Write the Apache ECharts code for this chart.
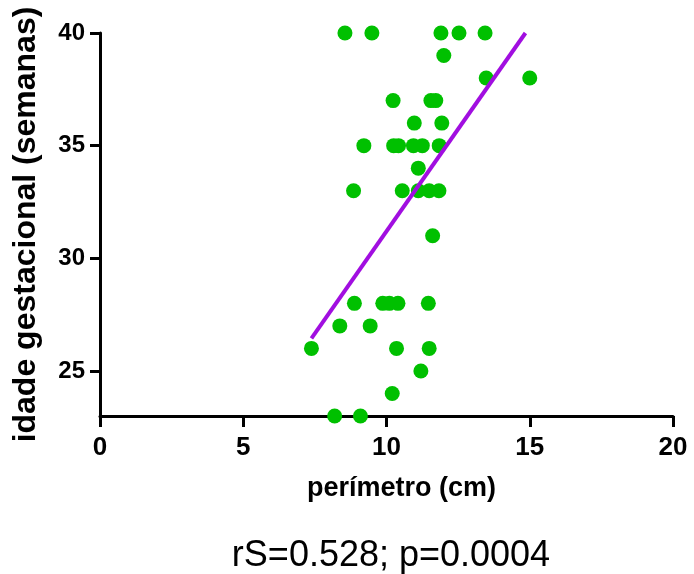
<!DOCTYPE html>
<html>
<head>
<meta charset="utf-8">
<script src="https://cdn.jsdelivr.net/npm/echarts@6/dist/echarts.min.js"></script>
<style>
  html, body { margin: 0; padding: 0; background: #fff; }
  #chart { width: 694px; height: 574px; }
</style>
</head>
<body>
<div id="chart"></div>
<script>
// perímetro (cm) vs idade gestacional (semanas)
var perimetro = [
  8.55, 9.49, 11.9, 12.53, 13.44,
  12.0,
  13.48, 15.0,
  10.23, 11.55, 11.72,
  10.97, 11.93,
  9.21, 10.25, 10.42, 10.94, 11.25, 11.84,
  11.11,
  8.85, 10.55, 11.11, 11.49, 11.83,
  11.61,
  8.88, 9.87, 10.1, 10.4, 11.46,
  8.37, 9.43,
  7.38, 10.35, 11.49,
  11.2,
  10.2,
  8.19, 9.09
];
var idade = [
  40, 40, 40, 40, 40,
  39,
  38, 38,
  37, 37, 37,
  36, 36,
  35, 35, 35, 35, 35, 35,
  34,
  33, 33, 33, 33, 33,
  31,
  28, 28, 28, 28, 28,
  27, 27,
  26, 26, 26,
  25,
  24,
  23, 23
];
// regression line ends
var lineX = [7.38, 14.85];
var lineY = [26.45, 40];
var yTicks = [25, 30, 35, 40];
var statText = 'rS=0.528; p=0.0004';

var myChart = echarts.init(document.getElementById('chart'));

var points = perimetro.map(function (x, i) { return [x, idade[i]]; });
var fit = lineX.map(function (x, i) { return [x, lineY[i]]; });

var axisFont = { fontFamily: 'Liberation Sans', fontWeight: 'bold', color: '#000' };

var option = {
  backgroundColor: '#fff',
  animation: false,
  title: {
    text: statText,
    left: 386,
    textAlign: 'center',
    top: 533,
    textStyle: { fontFamily: 'Liberation Sans', fontWeight: 'normal', fontSize: 36, color: '#000' }
  },
  grid: { left: 100, right: 21, top: 33, bottom: 158, containLabel: false },
  xAxis: {
    type: 'value',
    min: 0,
    max: 20,
    interval: 5,
    name: 'perímetro (cm)',
    nameLocation: 'middle',
    nameGap: 59,
    nameTextStyle: Object.assign({ fontSize: 27, padding: [0, 0, 0, 30] }, axisFont),
    axisLine: { onZero: false, lineStyle: { color: '#000', width: 3 } },
    axisTick: { show: true, length: 11, lineStyle: { color: '#000', width: 3 } },
    axisLabel: Object.assign({ fontSize: 26, margin: 19 }, axisFont),
    splitLine: { show: false }
  },
  yAxis: {
    type: 'value',
    min: 23,
    max: 40,
    name: 'idade gestacional (semanas)',
    nameLocation: 'middle',
    nameGap: 58,
    nameTextStyle: Object.assign({ fontSize: 32 }, axisFont),
    axisLine: { show: true, onZero: false, lineStyle: { color: '#000', width: 3 } },
    axisTick: { show: true, length: 10, customValues: yTicks, lineStyle: { color: '#000', width: 3 } },
    axisLabel: Object.assign({ fontSize: 24, margin: 15, customValues: yTicks }, axisFont),
    splitLine: { show: false }
  },
  series: [
    {
      type: 'line',
      data: fit,
      symbol: 'none',
      z: 3,
      lineStyle: { color: '#a10ee0', width: 4 }
    },
    {
      type: 'scatter',
      data: points,
      symbolSize: 15,
      z: 2,
      itemStyle: { color: '#00c000', opacity: 1 }
    }
  ]
};

myChart.setOption(option);
</script>
</body>
</html>
